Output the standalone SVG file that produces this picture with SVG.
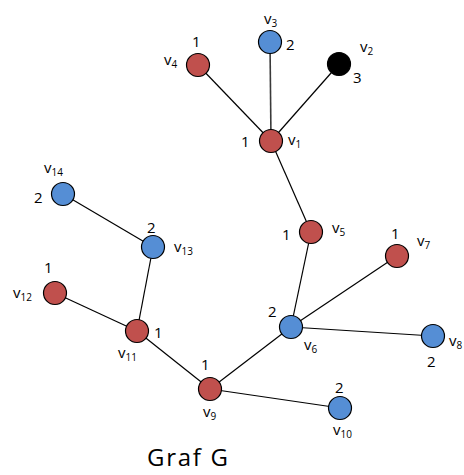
<svg xmlns="http://www.w3.org/2000/svg" width="464" height="475" viewBox="0 0 464 475">
<style>
.n{stroke:#000;stroke-width:1.2}
.r{fill:#C0504D}
.b{fill:#558ED5}
.k{fill:#000}
.e{stroke:#000;stroke-width:1.2;fill:none}
text{font-family:"Open Sans","Liberation Sans",sans-serif;fill:#000}
.d{font-size:15px}
.v{font-size:15px}
.s{font-size:10px}
.t{font-size:24px}
</style>
<rect width="464" height="475" fill="#fff"/>
<g id="edges">
<line class="e" x1="271" y1="141" x2="198" y2="65"/>
<line class="e" x1="271" y1="141" x2="270" y2="42" style="stroke:#3a3a3a;stroke-width:1.6"/>
<line class="e" x1="271" y1="141" x2="339" y2="64"/>
<line class="e" x1="271" y1="141" x2="311" y2="232"/>
<line class="e" x1="311" y1="232" x2="291" y2="327"/>
<line class="e" x1="291" y1="327" x2="397" y2="256"/>
<line class="e" x1="291" y1="327" x2="433" y2="336"/>
<line class="e" x1="291" y1="327" x2="210" y2="389"/>
<line class="e" x1="210" y1="389" x2="340" y2="408"/>
<line class="e" x1="210" y1="389" x2="137" y2="331"/>
<line class="e" x1="137" y1="331" x2="55" y2="293"/>
<line class="e" x1="137" y1="331" x2="153" y2="247"/>
<line class="e" x1="153" y1="247" x2="63" y2="194"/>
</g>
<g id="v1"><ellipse class="n r" cx="271" cy="141" rx="11.5" ry="11.5"/><text class="d" x="241" y="147">1</text><text class="v" x="288" y="145">v<tspan class="s" dy="3">1</tspan></text></g>
<g id="v2"><ellipse class="n k" cx="339" cy="64" rx="11.5" ry="11.5"/><text class="d" x="353" y="83">3</text><text class="v" x="360" y="52">v<tspan class="s" dy="3">2</tspan></text></g>
<g id="v3"><ellipse class="n b" cx="270" cy="42" rx="11.5" ry="11.5"/><text class="d" x="286" y="50">2</text><text class="v" x="264" y="24">v<tspan class="s" dy="3">3</tspan></text></g>
<g id="v4"><ellipse class="n r" cx="198" cy="65" rx="11.5" ry="11.5"/><text class="d" x="192" y="47">1</text><text class="v" x="164" y="65">v<tspan class="s" dy="3">4</tspan></text></g>
<g id="v5"><ellipse class="n r" cx="311" cy="232" rx="11.5" ry="11.5"/><text class="d" x="282" y="240">1</text><text class="v" x="332" y="233">v<tspan class="s" dy="3">5</tspan></text></g>
<g id="v6"><ellipse class="n b" cx="291" cy="327" rx="11.5" ry="11.5"/><text class="d" x="268" y="317">2</text><text class="v" x="304" y="350">v<tspan class="s" dy="3">6</tspan></text></g>
<g id="v7"><ellipse class="n r" cx="397" cy="256" rx="11.5" ry="11.5"/><text class="d" x="391" y="239">1</text><text class="v" x="417" y="246">v<tspan class="s" dy="3">7</tspan></text></g>
<g id="v8"><ellipse class="n b" cx="433" cy="336" rx="11.5" ry="11.5"/><text class="d" x="427" y="367">2</text><text class="v" x="449" y="346">v<tspan class="s" dy="3">8</tspan></text></g>
<g id="v9"><ellipse class="n r" cx="210" cy="389" rx="11.5" ry="11.5"/><text class="d" x="201" y="370">1</text><text class="v" x="203" y="417">v<tspan class="s" dy="3">9</tspan></text></g>
<g id="v10"><ellipse class="n b" cx="340" cy="408" rx="11.5" ry="11.5"/><text class="d" x="335" y="393">2</text><text class="v" x="333" y="435">v<tspan class="s" dy="3">10</tspan></text></g>
<g id="v11"><ellipse class="n r" cx="137" cy="331" rx="11.5" ry="11.5"/><text class="d" x="154" y="338">1</text><text class="v" x="118" y="358">v<tspan class="s" dy="3">11</tspan></text></g>
<g id="v12"><ellipse class="n r" cx="55" cy="293" rx="11.5" ry="11.5"/><text class="d" x="44" y="273">1</text><text class="v" x="13" y="298">v<tspan class="s" dy="3">12</tspan></text></g>
<g id="v13"><ellipse class="n b" cx="153" cy="247" rx="11.5" ry="11.5"/><text class="d" x="147" y="233">2</text><text class="v" x="174" y="252">v<tspan class="s" dy="3">13</tspan></text></g>
<g id="v14"><ellipse class="n b" cx="63" cy="194" rx="11.5" ry="11.5"/><text class="d" x="34" y="203">2</text><text class="v" x="44" y="173">v<tspan class="s" dy="3">14</tspan></text></g>
<g id="title"><text class="t" x="147" y="466" textLength="81">Graf G</text></g>
</svg>
